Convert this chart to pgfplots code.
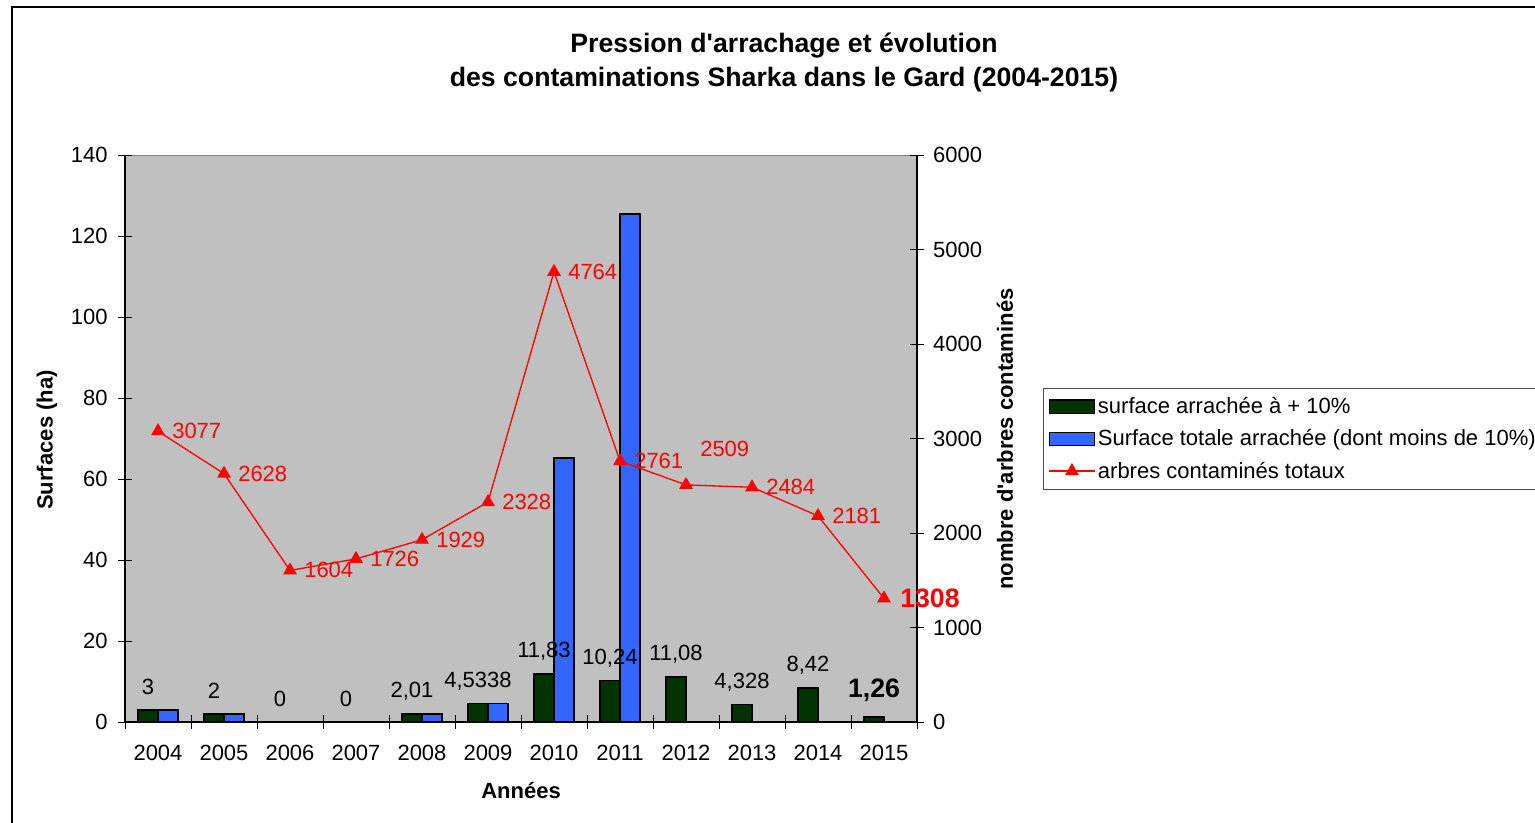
\documentclass[border=0pt]{standalone}
\usepackage{fontspec}
\setmainfont{Liberation Sans}
\usepackage{pgfplots}
\pgfplotsset{compat=1.18}
\usepackage{pgfplotstable}
\definecolor{bargreen}{HTML}{003300}
\definecolor{barblue}{HTML}{3366FF}
\definecolor{plotgray}{HTML}{C0C0C0}

\pgfplotsset{
  mylineleg/.style={legend image code/.code={\draw[##1,mark repeat=2,mark phase=2] plot coordinates {(0pt,0pt) (17pt,0pt) (34pt,0pt)};}},
  mybarleg/.style={legend image code/.code={\draw[##1] (0pt,-5pt) rectangle (34pt,5pt);}},
}

\pgfplotstableread{
x y
0 3
1 2
2 0
3 0
4 2.01
5 4.5338
6 11.83
7 10.24
8 11.08
9 4.328
10 8.42
11 1.26
}\greendata
\pgfplotstableread{
x y
0 3
1 2
2 0
3 0
4 2.01
5 4.5338
6 65.2
7 125.4
}\bluedata
\pgfplotstableread{
x y
0 3077
1 2628
2 1604
3 1726
4 1929
5 2328
6 4764
7 2761
8 2509
9 2484
10 2181
11 1308
}\linedata

\newcommand{\tfont}{\fontsize{16.5}{19.5}\selectfont}

\begin{document}
\begin{tikzpicture}
\useasboundingbox (0,0) rectangle (1151.25pt,616.5pt);
\draw[line width=0.8pt] (1200pt,611.25pt) -- (9pt,611.25pt) -- (9pt,-20pt);

\begin{axis}[
  at={(93.75pt,75pt)}, anchor=south west, scale only axis,
  width=594pt, height=425.25pt,
  xmin=-0.5, xmax=11.5, ymin=0, ymax=140,
  axis x line*=bottom, axis y line*=left,
  axis line style={line width=0.8pt},
  axis background/.style={fill=plotgray, draw=gray},
  xtick={-0.5,0.5,...,11.5},
  x tick label as interval,
  xticklabels={2004,2005,2006,2007,2008,2009,2010,2011,2012,2013,2014,2015},
  xticklabel style={yshift=-9pt},
  yticklabel style={xshift=-4.5pt},
  ytick={0,20,...,140},
  tick align=center, major tick length=10pt,
  tick style={black, line width=0.7pt},
  ticklabel style={font=\tfont},
  /pgf/number format/assume math mode=true,
  /pgf/number format/use comma,
  /pgf/number format/precision=4,
  clip=false,
]
\addplot[ybar, bar width=15pt, bar shift=-7.5pt, fill=bargreen, draw=black, line width=1pt] table[x=x,y=y] {\greendata};
\addplot[ybar, bar width=15pt, bar shift=7.5pt, fill=barblue, draw=black, line width=1pt] table[x=x,y=y] {\bluedata};
\addplot[draw=none, mark=none, nodes near coords,
  nodes near coords style={anchor=center, inner sep=0pt, xshift=-7.5pt, yshift=17pt, font=\tfont, black}]
  table[x=x,y=y] {
x y
0 3
1 2
2 0
3 0
4 2.01
5 4.5338
6 11.83
7 10.24
8 11.08
9 4.328
10 8.42
};
\addplot[draw=none, mark=none, nodes near coords,
  nodes near coords style={anchor=center, inner sep=0pt, xshift=-7.5pt, yshift=20pt, font=\fontsize{20}{24}\selectfont\bfseries, black}]
  table[x=x,y=y] {
x y
11 1.26
};
\end{axis}

\begin{axis}[
  at={(93.75pt,75pt)}, anchor=south west, scale only axis,
  width=594pt, height=425.25pt,
  xmin=-0.5, xmax=11.5, ymin=0, ymax=6000,
  axis y line*=right, axis x line=none,
  axis line style={line width=0.8pt},
  ytick={0,1000,...,6000},
  yticklabel style={xshift=3.5pt},
  scaled y ticks=false,
  tick align=center, major tick length=10pt,
  tick style={black, line width=0.7pt},
  ticklabel style={font=\tfont},
  /pgf/number format/assume math mode=true,
  /pgf/number format/set thousands separator={},
  legend style={at={(1.1591,0.5891)}, anchor=north west, draw=gray!60!black, fill=white,
    font=\tfont, row sep=6.5pt, inner xsep=4pt, inner ysep=5pt},
  legend cell align=left,
  clip=false,
]
\addlegendimage{mybarleg, fill=bargreen, draw=black, line width=1pt}
\addlegendentry{surface arrachée à + 10\%}
\addlegendimage{mybarleg, fill=barblue, draw=black, line width=1pt}
\addlegendentry{Surface totale arrachée (dont moins de 10\%)}
\addplot[red, line width=1pt, mark=triangle*, mark size=5pt, mylineleg]
  table[x=x,y=y] {\linedata};
\addlegendentry{arbres contaminés totaux}
\addplot[draw=none, mark=none, nodes near coords, point meta=explicit,
  nodes near coords style={anchor=west, inner sep=0pt, xshift=10.5pt, font=\tfont, red}]
  table[x=x,y=y,meta=y] {
x y
0 3077
1 2628
2 1604
3 1726
4 1929
5 2328
6 4764
7 2761
9 2484
10 2181
};
\addplot[draw=none, mark=none, nodes near coords, point meta=explicit,
  nodes near coords style={anchor=west, inner sep=0pt, xshift=10.5pt, yshift=27pt, font=\tfont, red}]
  table[x=x,y=y,meta=y] {
x y
8 2509
};
\addplot[draw=none, mark=none, nodes near coords, point meta=explicit,
  nodes near coords style={anchor=west, inner sep=0pt, xshift=12pt, font=\fontsize{20}{24}\selectfont\bfseries, red}]
  table[x=x,y=y,meta=y] {
x y
11 1308
};
\end{axis}

\node[font=\fontsize{20}{24}\selectfont\bfseries] at (588pt,582pt) {Pression d\textquotesingle arrachage et évolution};
\node[font=\fontsize{20}{24}\selectfont\bfseries] at (588pt,556.5pt) {des contaminations Sharka dans le Gard (2004-2015)};
\node[font=\fontsize{16.5}{19.5}\selectfont\bfseries, rotate=90] at (35.25pt,286.5pt) {Surfaces (ha)};
\node[font=\fontsize{16.5}{19.5}\selectfont\bfseries, rotate=90] at (753.75pt,287.25pt) {nombre d\textquotesingle arbres contaminés};
\node[font=\fontsize{16.5}{19.5}\selectfont\bfseries] at (390.75pt,23.25pt) {Années};
\end{tikzpicture}
\end{document}
